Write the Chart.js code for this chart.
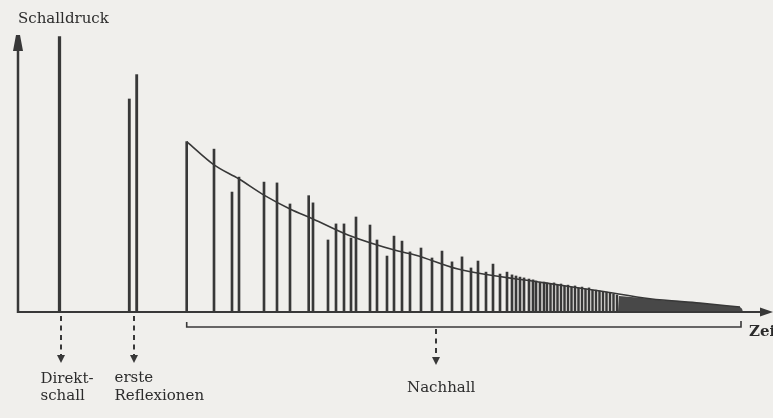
<!DOCTYPE html>
<html>
<head>
<meta charset="utf-8">
<script src="https://cdn.jsdelivr.net/npm/chart.js@4.4.1/dist/chart.umd.min.js"></script>
<style>
  html, body { margin: 0; padding: 0; background: #f0efec; }
  #wrap { width: 773px; height: 418px; }
  canvas { display: block; }
</style>
</head>
<body>
<div id="wrap"><canvas id="c" width="773" height="418"></canvas></div>
<script>
// Impulsantwort eines Raumes: Direktschall, erste Reflexionen, Nachhall.
// Zeit in ms (relativ), Schalldruck in % des Direktschalls.

const direktZeit  = [41.5];
const direktDruck = [99.4];

const reflexZeit  = [111.3, 118.7];
const reflexDruck = [76.9, 85.7];

const nachhallZeit = [168.7, 196, 214, 221, 246, 259, 272, 290.7, 295, 310,
                      318, 326, 333, 338, 352, 359, 369, 376, 384, 392,
                      403, 414, 424, 434, 444, 453, 460, 468, 475, 482,
                      489, 494, 498, 502, 506, 511, 515, 518, 522, 526];
const nachhallDruck = [61.5, 58.8, 43.3, 48.7, 46.9, 46.6, 39.0, 42.0, 39.4, 26.0,
                       31.8, 31.8, 26.7, 34.3, 31.4, 26.0, 20.2, 27.4, 25.6, 21.7,
                       23.1, 19.5, 22.0, 18.1, 19.9, 15.9, 18.4, 14.4, 17.3, 13.7,
                       14.4, 13.4, 13.0, 12.6, 12.3, 11.9, 11.6, 11.2, 10.8, 10.8];

// dichte Folge späterer Reflexionen
const dichteZeit  = [529, 532.5, 536, 539.5, 543, 546.5, 550, 553.5, 557, 560.5,
                     564, 567.5, 571, 574.5, 578, 581.5, 585, 588.5, 592, 595.5, 599];
const dichteDruck = [10.5, 10.1, 10.5, 9.7, 10.1, 9.4, 9.7, 9.0, 9.4, 8.7,
                     9.0, 8.3, 8.7, 7.9, 7.9, 7.6, 7.2, 7.2, 6.9, 6.5, 6.1];

// Ausklang: Reflexionen so dicht, dass sie verschmelzen
const ausklangZeit  = [600, 601, 622, 642, 662, 682, 702, 722, 724, 725];
const ausklangDruck = [0, 5.8, 5.1, 4.3, 4.0, 3.2, 2.5, 1.8, 1.2, 0];

// Hüllkurve des Nachhalls
const huellZeit  = [168.7, 196, 221, 246, 272, 295, 330, 380, 397, 440, 527, 582, 632, 682, 722];
const huellDruck = [61.5, 53.1, 48.0, 42.2, 37.2, 33.6, 27.8, 22.0, 20.6, 15.5, 10.5, 7.6, 4.8, 3.2, 1.8];

const achseY = 'Schalldruck';
const achseX = 'Zeit';
const labelDirekt = ['Direkt-', 'schall'];
const labelReflex = ['erste', 'Reflexionen'];
const labelNachhall = ['Nachhall'];

const zeitMax = 755;
const druckMax = 100;

const ink = '#383838';
const textInk = '#2c2c2c';
const font = '"DejaVu Serif", "Liberation Serif", serif';

const pts = (xs, ys) => xs.map((v, i) => ({ x: v, y: ys[i] }));

function dashedArrow(ctx, px, yFrom, yTip) {
  ctx.save();
  ctx.lineWidth = 2;
  ctx.setLineDash([5, 4.5]);
  ctx.beginPath();
  ctx.moveTo(px, yFrom);
  ctx.lineTo(px, yTip - 6);
  ctx.stroke();
  ctx.setLineDash([]);
  ctx.beginPath();
  ctx.moveTo(px - 4, yTip - 8);
  ctx.lineTo(px + 4, yTip - 8);
  ctx.lineTo(px, yTip);
  ctx.closePath();
  ctx.fill();
  ctx.restore();
}

const annotations = {
  id: 'annotations',
  afterDatasetsDraw(chart) {
    const { ctx, scales: { x, y } } = chart;
    const x0 = x.getPixelForValue(0);
    const y0 = y.getPixelForValue(0);
    const yTop = y.getPixelForValue(druckMax);
    const xEnd = x.getPixelForValue(zeitMax);

    ctx.save();
    ctx.strokeStyle = ink;
    ctx.fillStyle = ink;

    // Ordinate mit Pfeil
    ctx.lineWidth = 2.5;
    ctx.beginPath();
    ctx.moveTo(x0, y0 + 1);
    ctx.lineTo(x0, yTop + 12);
    ctx.stroke();
    ctx.beginPath();
    ctx.moveTo(x0 - 2, yTop);
    ctx.lineTo(x0 + 2, yTop);
    ctx.lineTo(x0 + 5, yTop + 16);
    ctx.lineTo(x0 - 5, yTop + 16);
    ctx.closePath();
    ctx.fill();

    // Zeitachse mit Pfeil
    ctx.lineWidth = 2;
    ctx.beginPath();
    ctx.moveTo(x0 - 1, y0);
    ctx.lineTo(xEnd - 10, y0);
    ctx.stroke();
    ctx.beginPath();
    ctx.moveTo(xEnd, y0);
    ctx.lineTo(xEnd - 13, y0 - 4.5);
    ctx.lineTo(xEnd - 13, y0 + 4.5);
    ctx.closePath();
    ctx.fill();

    // Klammer unter dem Nachhall
    const bx1 = x.getPixelForValue(nachhallZeit[0]);
    const bx2 = x.getPixelForValue(ausklangZeit[ausklangZeit.length - 2] - 1);
    const by = y0 + 15;
    ctx.lineWidth = 1.6;
    ctx.beginPath();
    ctx.moveTo(bx1, by - 5);
    ctx.lineTo(bx1, by);
    ctx.lineTo(bx2, by);
    ctx.lineTo(bx2, by - 6);
    ctx.stroke();

    // gestrichelte Hinweispfeile
    const dx = x.getPixelForValue(direktZeit[0]) + 1.5;
    const rx = x.getPixelForValue((reflexZeit[0] + reflexZeit[1]) / 2) + 1;
    const nx = x.getPixelForValue(418);
    dashedArrow(ctx, dx, y0 + 4, y0 + 51);
    dashedArrow(ctx, rx, y0 + 4, y0 + 51);
    dashedArrow(ctx, nx, by + 2, by + 38);

    // Beschriftung
    ctx.fillStyle = textInk;
    ctx.textBaseline = 'alphabetic';
    ctx.textAlign = 'left';
    ctx.font = '15px ' + font;
    ctx.fillText(achseY, x0, 23);
    ctx.fillText(labelDirekt[0], dx - 20.5, y0 + 71);
    ctx.fillText(labelDirekt[1], dx - 20.5, y0 + 88);
    ctx.fillText(labelReflex[0], rx - 19.5, y0 + 70);
    ctx.fillText(labelReflex[1], rx - 19.5, y0 + 87.5);
    ctx.fillText(labelNachhall[0], nx - 29, y0 + 80);
    ctx.font = 'bold 15px ' + font;
    ctx.fillText(achseX, bx2 + 8, y0 + 24);

    ctx.restore();
  }
};

new Chart(document.getElementById('c'), {
  type: 'bar',
  data: {
    datasets: [
      {
        label: 'Direktschall',
        data: pts(direktZeit, direktDruck),
        backgroundColor: ink,
        barThickness: 2.6,
        grouped: false
      },
      {
        label: 'erste Reflexionen',
        data: pts(reflexZeit, reflexDruck),
        backgroundColor: ink,
        barThickness: 2.2,
        grouped: false
      },
      {
        label: 'Nachhall',
        data: pts(nachhallZeit, nachhallDruck),
        backgroundColor: ink,
        barThickness: 2,
        grouped: false
      },
      {
        label: 'Nachhall dicht',
        data: pts(dichteZeit, dichteDruck),
        backgroundColor: ink,
        barThickness: 1.8,
        grouped: false
      },
      {
        type: 'line',
        label: 'Ausklang',
        data: pts(ausklangZeit, ausklangDruck),
        borderWidth: 0,
        pointRadius: 0,
        fill: 'origin',
        backgroundColor: 'rgba(58,58,58,0.92)',
        tension: 0
      },
      {
        type: 'line',
        label: 'Hüllkurve',
        data: pts(huellZeit, huellDruck),
        borderColor: ink,
        borderWidth: 1.6,
        pointRadius: 0,
        fill: false,
        cubicInterpolationMode: 'monotone'
      }
    ]
  },
  options: {
    responsive: false,
    animation: false,
    events: [],
    layout: { padding: { left: 18, right: 0, top: 35, bottom: 106 } },
    plugins: { legend: { display: false }, tooltip: { enabled: false } },
    scales: {
      x: { type: 'linear', min: 0, max: zeitMax, offset: false, display: false },
      y: { min: 0, max: druckMax, display: false }
    }
  },
  plugins: [annotations]
});
</script>
</body>
</html>
